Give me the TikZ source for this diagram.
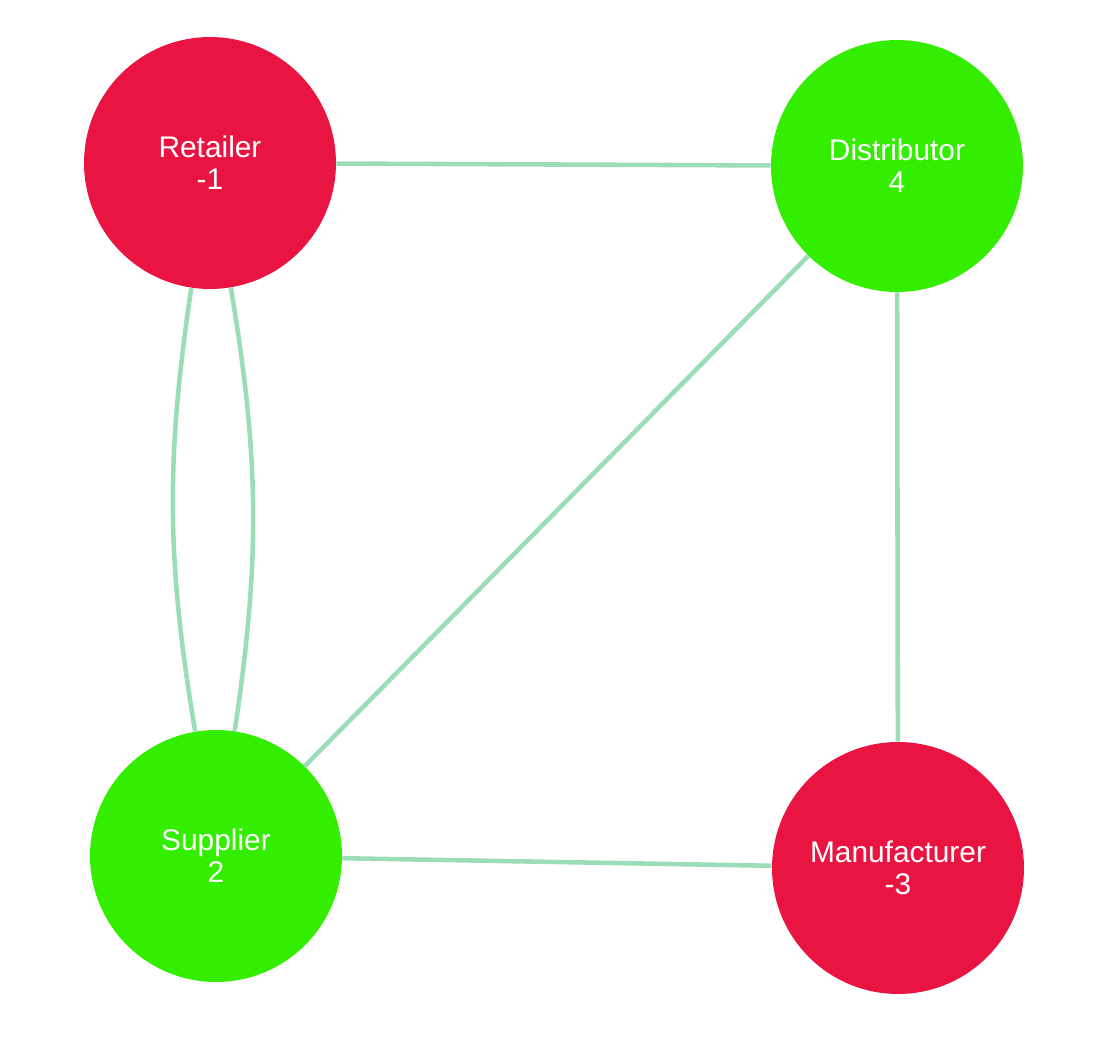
\documentclass[tikz,border=0pt]{standalone}
\usepackage{fontspec}
\setmainfont{Liberation Sans}
\usetikzlibrary{positioning}

\definecolor{nodered}{RGB}{233,20,66}
\definecolor{nodegreen}{RGB}{51,238,0}
\definecolor{edgegreen}{RGB}{155,221,182}

\begin{document}
\begin{tikzpicture}[
    x=0.02cm, y=-0.02cm,
    font=\fontsize{17}{18.2}\selectfont,
    station/.style={circle, minimum size=5.04cm, inner sep=0pt, text=white, align=center},
    loss/.style={station, fill=nodered},
    gain/.style={station, fill=nodegreen},
    link/.style={draw=edgegreen, line width=2.6pt}
]
\useasboundingbox (0,0) rectangle (1096,1038);

% 1. Stations (corners)
\node[loss] (Retailer) at (210,163) {Retailer\\-1};
\node[gain] (Distributor) at (897,166) {Distributor\\4};
\node[gain] (Supplier) at (216,856) {Supplier\\2};
\node[loss] (Manufacturer) at (898,868) {Manufacturer\\-3};

% 2. Links
\draw[link] (Retailer) -- (Distributor);
\draw[link] (Retailer) to[bend right=9] (Supplier);
\draw[link] (Retailer) to[bend left=9] (Supplier);
\draw[link] (Distributor) -- (Supplier);
\draw[link] (Distributor) -- (Manufacturer);
\draw[link] (Supplier) -- (Manufacturer);

\end{tikzpicture}
\end{document}
